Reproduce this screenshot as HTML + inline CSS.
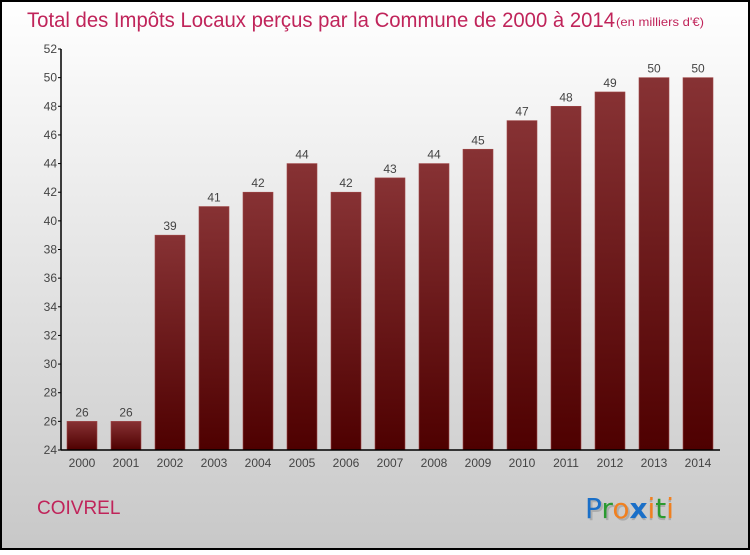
<!DOCTYPE html>
<html><head><meta charset="utf-8"><style>
body{margin:0;width:750px;height:550px;overflow:hidden;font-family:"Liberation Sans",sans-serif}
</style></head><body>
<svg id="chart" width="750" height="550" xmlns="http://www.w3.org/2000/svg">
<defs>
<linearGradient id="bg" x1="0" y1="0" x2="0" y2="1"><stop offset="0" stop-color="#ffffff"/><stop offset="1" stop-color="#c8c8c8"/></linearGradient>
<linearGradient id="bar" x1="0" y1="0" x2="0" y2="1"><stop offset="0" stop-color="#873234"/><stop offset="1" stop-color="#4e0000"/></linearGradient>
</defs>
<rect x="1" y="1" width="748" height="548" fill="url(#bg)" stroke="#000" stroke-width="2"/>
<text x="27" y="27" font-size="21" fill="#c0245a" textLength="588" lengthAdjust="spacingAndGlyphs">Total des Impôts Locaux perçus par la Commune de 2000 à 2014</text>
<text x="616" y="26" font-size="12" fill="#c0245a" textLength="88" lengthAdjust="spacingAndGlyphs">(en milliers d'€)</text>
<text x="37" y="514" font-size="19" fill="#c0245a">COIVREL</text>
<g font-size="28" font-family="'DejaVu Sans',sans-serif">
<text x="585" y="518" fill="#999" opacity="0.6" transform="translate(2,2)">Proxiti</text>
<text x="585" y="518"><tspan fill="#1a6fc8">P</tspan><tspan fill="#2a9a30">r</tspan><tspan fill="#f08020">o</tspan><tspan fill="#1a6fc8" font-weight="bold">x</tspan><tspan fill="#f08020">i</tspan><tspan fill="#2a9a30">t</tspan><tspan fill="#f08020">i</tspan></text>
</g>
<g id="plot"></g>
</svg>
<script>
const years=["2000","2001","2002","2003","2004","2005","2006","2007","2008","2009","2010","2011","2012","2013","2014"];
const values=[26,26,39,41,42,44,42,43,44,45,47,48,49,50,50];
const yTicks=[24,26,28,30,32,34,36,38,40,42,44,46,48,50,52];
const NS="http://www.w3.org/2000/svg";
const g=document.getElementById('plot');
const x0=61,x1=720,yMin=24,yMax=52,yTop=49,yBot=450;
const y=v=>yBot-(v-yMin)/(yMax-yMin)*(yBot-yTop);
const pitch=44,bw=30,first=67;
const xb=i=>first+i*pitch;
function el(t,a){const e=document.createElementNS(NS,t);for(const k in a)e.setAttribute(k,a[k]);g.appendChild(e);return e;}
values.forEach((v,i)=>{
 const r=el('rect',{x:xb(i),y:y(v),width:bw,height:yBot-y(v),fill:'url(#bar)',stroke:'#a04848','stroke-width':0.6});
 
 
 const t=el('text',{x:xb(i)+bw/2,y:y(v)-5,'font-size':12,fill:'#444','text-anchor':'middle'});
 t.textContent=v;
 
 
 const xl=el('text',{x:xb(i)+bw/2,y:467,'font-size':12,fill:'#444','text-anchor':'middle'});
 xl.textContent=years[i];
 
 
});
yTicks.forEach(v=>{
 el('line',{x1:x0-3,x2:x0,y1:y(v),y2:y(v),stroke:'#000'});
 const t=el('text',{x:x0-4,y:y(v)+4,'font-size':12,fill:'#444','text-anchor':'end'});
 t.textContent=v;
 
 
});
const ya=el('line',{x1:x0,x2:x0,y1:yTop,y2:yBot,stroke:'#000','stroke-width':1.5});


const xa=el('line',{x1:x0,x2:x1,y1:yBot,y2:yBot,stroke:'#000','stroke-width':1.5});


</script>
</body></html>
